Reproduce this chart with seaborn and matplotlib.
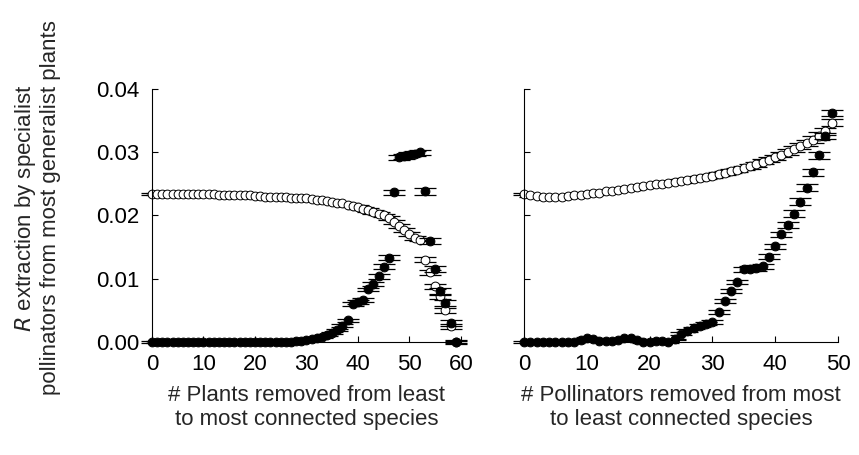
import matplotlib
matplotlib.use("Agg")
import matplotlib.pyplot as plt
import seaborn as sns
import pandas as pd

# Plants removed (least -> most connected)
plants_removed = list(range(60))
plants_open = [
    0.0234, 0.0234, 0.0234, 0.0234, 0.0234, 0.0234, 0.0234, 0.0234, 0.0234, 0.0234,
    0.0234, 0.0234, 0.0234, 0.0233, 0.0233, 0.0233, 0.0233, 0.0232, 0.0232, 0.0232,
    0.0231, 0.0231, 0.0230, 0.0230, 0.0230, 0.0229, 0.0229, 0.0228, 0.0228, 0.0227,
    0.0227, 0.0226, 0.0225, 0.0224, 0.0223, 0.0222, 0.0220, 0.0219, 0.0217, 0.0215,
    0.0213, 0.0211, 0.0209, 0.0206, 0.0203, 0.0200, 0.0196, 0.0190, 0.0183, 0.0177,
    0.0171, 0.0165, 0.0162, 0.0130, 0.0110, 0.0088, 0.0072, 0.0050, 0.0025, 0.0000,
]
plants_open_err = [
    0.0002, 0.0002, 0.0002, 0.0002, 0.0002, 0.0002, 0.0002, 0.0002, 0.0002, 0.0002,
    0.0002, 0.0002, 0.0002, 0.0002, 0.0002, 0.0002, 0.0002, 0.0002, 0.0002, 0.0002,
    0.0002, 0.0002, 0.0002, 0.0002, 0.0002, 0.0002, 0.0002, 0.0002, 0.0002, 0.0002,
    0.0002, 0.0002, 0.0002, 0.0002, 0.0002, 0.0002, 0.0002, 0.0002, 0.0002, 0.0002,
    0.0003, 0.0003, 0.0003, 0.0003, 0.0003, 0.0003, 0.0003, 0.0003, 0.0003, 0.0003,
    0.0003, 0.0003, 0.0003, 0.0004, 0.0004, 0.0004, 0.0004, 0.0004, 0.0004, 0.0003,
]
plants_filled = [
    0.0000, 0.0000, 0.0000, 0.0000, 0.0000, 0.0000, 0.0000, 0.0000, 0.0000, 0.0000,
    0.0000, 0.0000, 0.0000, 0.0000, 0.0000, 0.0000, 0.0000, 0.0000, 0.0000, 0.0000,
    0.0000, 0.0000, 0.0000, 0.0000, 0.0000, 0.0000, 0.0000, 0.0000, 0.0001, 0.0002,
    0.0003, 0.0004, 0.0006, 0.0008, 0.0011, 0.0014, 0.0019, 0.0026, 0.0034, 0.0060,
    0.0063, 0.0067, 0.0083, 0.0092, 0.0104, 0.0119, 0.0133, 0.0237, 0.0292, 0.0294,
    0.0296, 0.0298, 0.0300, 0.0238, 0.0160, 0.0115, 0.0080, 0.0062, 0.0030, 0.0000,
]
plants_filled_err = [
    0.0001, 0.0001, 0.0001, 0.0001, 0.0001, 0.0001, 0.0001, 0.0001, 0.0001, 0.0001,
    0.0001, 0.0001, 0.0001, 0.0001, 0.0001, 0.0001, 0.0001, 0.0001, 0.0001, 0.0001,
    0.0001, 0.0001, 0.0001, 0.0001, 0.0001, 0.0001, 0.0001, 0.0001, 0.0001, 0.0001,
    0.0001, 0.0001, 0.0002, 0.0002, 0.0002, 0.0002, 0.0002, 0.0002, 0.0003, 0.0003,
    0.0003, 0.0003, 0.0003, 0.0003, 0.0004, 0.0004, 0.0004, 0.0004, 0.0004, 0.0004,
    0.0004, 0.0004, 0.0004, 0.0005, 0.0005, 0.0005, 0.0005, 0.0005, 0.0004, 0.0002,
]

# Pollinators removed (most -> least connected)
polls_removed = list(range(50))
polls_open = [
    0.0234, 0.0232, 0.0231, 0.0230, 0.0230, 0.0230, 0.0230, 0.0231, 0.0232, 0.0233,
    0.0234, 0.0235, 0.0236, 0.0238, 0.0239, 0.0240, 0.0242, 0.0243, 0.0245, 0.0246,
    0.0248, 0.0249, 0.0250, 0.0252, 0.0253, 0.0254, 0.0256, 0.0257, 0.0259, 0.0261,
    0.0263, 0.0265, 0.0267, 0.0270, 0.0272, 0.0275, 0.0278, 0.0281, 0.0285, 0.0288,
    0.0292, 0.0296, 0.0300, 0.0305, 0.0310, 0.0315, 0.0320, 0.0326, 0.0333, 0.0347,
]
polls_open_err = [
    0.0002, 0.0002, 0.0002, 0.0002, 0.0002, 0.0002, 0.0002, 0.0002, 0.0002, 0.0002,
    0.0002, 0.0002, 0.0002, 0.0002, 0.0002, 0.0002, 0.0002, 0.0002, 0.0002, 0.0002,
    0.0002, 0.0002, 0.0002, 0.0002, 0.0002, 0.0003, 0.0003, 0.0003, 0.0003, 0.0003,
    0.0003, 0.0003, 0.0003, 0.0003, 0.0003, 0.0003, 0.0004, 0.0004, 0.0004, 0.0004,
    0.0004, 0.0004, 0.0005, 0.0005, 0.0005, 0.0005, 0.0005, 0.0006, 0.0006, 0.0006,
]
polls_filled = [
    0.0000, 0.0000, 0.0000, 0.0000, 0.0000, 0.0000, 0.0000, 0.0000, 0.0000, 0.0003,
    0.0007, 0.0005, 0.0002, 0.0001, 0.0001, 0.0003, 0.0006, 0.0006, 0.0003, 0.0000,
    0.0000, 0.0001, 0.0001, 0.0000, 0.0004, 0.0013, 0.0018, 0.0022, 0.0026, 0.0029,
    0.0031, 0.0048, 0.0065, 0.0081, 0.0095, 0.0115, 0.0116, 0.0117, 0.0120, 0.0135,
    0.0151, 0.0170, 0.0185, 0.0203, 0.0222, 0.0244, 0.0268, 0.0295, 0.0326, 0.0362,
]
polls_filled_err = [
    0.0001, 0.0001, 0.0001, 0.0001, 0.0001, 0.0001, 0.0001, 0.0001, 0.0001, 0.0001,
    0.0001, 0.0001, 0.0001, 0.0001, 0.0001, 0.0001, 0.0001, 0.0001, 0.0001, 0.0001,
    0.0001, 0.0001, 0.0001, 0.0001, 0.0001, 0.0002, 0.0002, 0.0002, 0.0002, 0.0002,
    0.0003, 0.0003, 0.0003, 0.0003, 0.0003, 0.0004, 0.0004, 0.0004, 0.0004, 0.0004,
    0.0004, 0.0004, 0.0004, 0.0005, 0.0005, 0.0005, 0.0005, 0.0005, 0.0005, 0.0005,
]

y_ticks = [0.00, 0.01, 0.02, 0.03, 0.04]
y_tick_labels = ["0.00", "0.01", "0.02", "0.03", "0.04"]
plants_ticks = [0, 10, 20, 30, 40, 50, 60]
polls_ticks = [0, 10, 20, 30, 40, 50]

sns.set_style("ticks")
plt.rcParams["font.family"] = ["Liberation Sans", "DejaVu Sans"]
FS = 16

fig = plt.figure(figsize=(8.59, 4.55), dpi=100)
ax_l = fig.add_axes([0.1769, 0.2484, 0.3597, 0.5560])
ax_r = fig.add_axes([0.6100, 0.2484, 0.3655, 0.5560])


def draw_series(ax, x, y, err, filled, z):
    df = pd.DataFrame({"x": x, "y": y})
    ax.errorbar(x, y, yerr=err, fmt="none", ecolor="black", elinewidth=0.9,
                capsize=8, capthick=0.9, zorder=z, clip_on=False)
    sns.scatterplot(data=df, x="x", y="y", ax=ax, marker="o", s=40,
                    color="black" if filled else "white",
                    edgecolor="black", linewidth=0.7, zorder=z + 0.5,
                    clip_on=False, legend=False)


draw_series(ax_l, plants_removed, plants_open, plants_open_err, False, 2)
draw_series(ax_l, plants_removed, plants_filled, plants_filled_err, True, 4)
draw_series(ax_r, polls_removed, polls_open, polls_open_err, False, 2)
draw_series(ax_r, polls_removed, polls_filled, polls_filled_err, True, 4)

for ax, ticks in ((ax_l, plants_ticks), (ax_r, polls_ticks)):
    ax.set_xlim(ticks[0], ticks[-1])
    ax.set_ylim(0, 0.04)
    ax.set_xticks(ticks)
    ax.set_xticklabels([str(t) for t in ticks], fontsize=FS)
    ax.set_yticks(y_ticks)
    ax.tick_params(direction="in", length=4, width=0.8, colors="black")
    ax.tick_params(axis="x", pad=9)
    ax.tick_params(axis="y", pad=9)
    sns.despine(ax=ax)
    for s in ("left", "bottom"):
        ax.spines[s].set_linewidth(0.8)
        ax.spines[s].set_color("black")
    ax.set_facecolor("white")

ax_l.set_yticklabels(y_tick_labels, fontsize=FS)
ax_r.set_yticklabels([])

ax_l.set_xlabel("# Plants removed from least\nto most connected species",
                fontsize=FS, labelpad=7, linespacing=1.15)
ax_r.set_xlabel("# Pollinators removed from most\nto least connected species",
                fontsize=FS, labelpad=7, linespacing=1.15)
ax_l.set_ylabel("$\\it{R}$ extraction by specialist\npollinators from most generalist plants",
                fontsize=FS, linespacing=1.1)
ax_l.yaxis.set_label_coords(-0.295, 0.53)
ax_r.set_ylabel("")

fig.savefig("out.png", dpi=100, facecolor="white")
